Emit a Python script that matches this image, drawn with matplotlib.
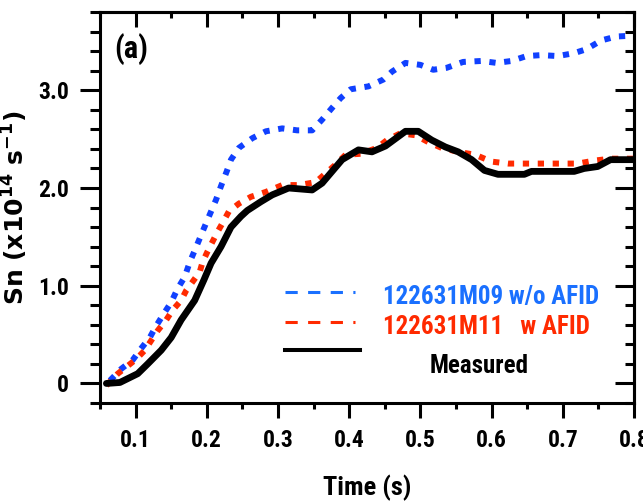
import matplotlib
matplotlib.use("Agg")
import matplotlib.pyplot as plt
from matplotlib import font_manager
from matplotlib.ticker import MultipleLocator, FixedLocator, FuncFormatter

# --- data ---
t_meas = [0.059, 0.078, 0.103, 0.117, 0.136, 0.150, 0.164, 0.183, 0.196, 0.206,
          0.220, 0.234, 0.248, 0.257, 0.276, 0.292, 0.315, 0.348, 0.362, 0.390,
          0.413, 0.432, 0.451, 0.479, 0.497, 0.516, 0.535, 0.553, 0.572, 0.590,
          0.609, 0.646, 0.656, 0.716, 0.730, 0.749, 0.767, 0.800]
sn_meas = [0.00, 0.01, 0.10, 0.20, 0.34, 0.47, 0.65, 0.85, 1.06, 1.23,
           1.40, 1.60, 1.71, 1.77, 1.86, 1.93, 2.00, 1.98, 2.05, 2.29,
           2.39, 2.37, 2.43, 2.58, 2.58, 2.49, 2.42, 2.37, 2.29, 2.18,
           2.14, 2.14, 2.17, 2.17, 2.20, 2.22, 2.29, 2.29]

t_m11 = [0.059, 0.075, 0.089, 0.101, 0.113, 0.122, 0.131, 0.143, 0.152, 0.164,
         0.171, 0.180, 0.190, 0.194, 0.201, 0.208, 0.215, 0.222, 0.231, 0.245,
         0.262, 0.283, 0.306, 0.329, 0.353, 0.367, 0.381, 0.395, 0.416, 0.439,
         0.453, 0.472, 0.493, 0.511, 0.530, 0.553, 0.577, 0.600, 0.623, 0.670,
         0.721, 0.744, 0.767, 0.800]
sn_m11 = [-0.02, 0.10, 0.18, 0.25, 0.34, 0.44, 0.54, 0.65, 0.75, 0.85,
          0.95, 1.04, 1.14, 1.24, 1.35, 1.45, 1.55, 1.64, 1.76, 1.84,
          1.91, 1.96, 2.03, 2.03, 2.06, 2.15, 2.24, 2.34, 2.35, 2.41,
          2.49, 2.56, 2.54, 2.47, 2.41, 2.37, 2.34, 2.27, 2.25, 2.25,
          2.25, 2.28, 2.30, 2.30]

t_m09 = [0.064, 0.080, 0.096, 0.108, 0.120, 0.129, 0.141, 0.150, 0.159, 0.169,
         0.176, 0.183, 0.191, 0.199, 0.206, 0.213, 0.220, 0.228, 0.234, 0.245,
         0.264, 0.283, 0.306, 0.327, 0.348, 0.362, 0.376, 0.388, 0.402, 0.427,
         0.448, 0.460, 0.479, 0.500, 0.518, 0.537, 0.560, 0.586, 0.607, 0.628,
         0.649, 0.670, 0.693, 0.716, 0.733, 0.754, 0.775, 0.800]
sn_m09 = [0.03, 0.15, 0.24, 0.36, 0.47, 0.59, 0.73, 0.83, 0.97, 1.09,
          1.24, 1.36, 1.50, 1.64, 1.76, 1.88, 2.02, 2.17, 2.29, 2.41,
          2.51, 2.58, 2.61, 2.59, 2.59, 2.70, 2.82, 2.92, 3.01, 3.04,
          3.11, 3.19, 3.28, 3.26, 3.21, 3.23, 3.29, 3.30, 3.28, 3.30,
          3.35, 3.36, 3.35, 3.38, 3.42, 3.51, 3.55, 3.56]

labels = ["122631M09 w/o AFID", "122631M11   w AFID", "Measured"]
blue = "#1040ff"
blue_txt = "#1a70ff"
red = "#ff2a00"

# condensed bold font if we have one
names = {f.name for f in font_manager.fontManager.ttflist}
narrow = "DejaVu Sans"
for cand in ["Liberation Sans Narrow", "Roboto Condensed", "Open Sans Condensed",
             "Noto Sans Display", "Liberation Sans"]:
    if cand in names:
        narrow = cand
        break
cond = dict(family=narrow, weight="bold")
if narrow in ("Liberation Sans", "DejaVu Sans"):
    cond["stretch"] = "condensed"

fig = plt.figure(figsize=(6.43, 5.04), dpi=100)
ax = fig.add_axes([0.1555, 0.2004, 0.8305, 0.7756])

ax.plot(t_m09, sn_m09, color=blue, lw=4.3, linestyle=(0, (1.05, 1.45)))
ax.plot(t_m11, sn_m11, color=red, lw=4.3, linestyle=(0, (1.05, 1.45)))
ax.plot(t_meas, sn_meas, color="black", lw=4.9, solid_capstyle="round")

ax.set_xlim(0.05, 0.8)
ax.set_ylim(-0.2, 3.8)

for s in ax.spines.values():
    s.set_linewidth(2.2)

ax.xaxis.set_major_locator(FixedLocator([0.1, 0.2, 0.3, 0.4, 0.5, 0.6, 0.7, 0.8]))
ax.xaxis.set_minor_locator(MultipleLocator(0.05))
ax.yaxis.set_major_locator(FixedLocator([0, 1, 2, 3]))
ax.yaxis.set_minor_locator(MultipleLocator(0.2))
ax.yaxis.set_major_formatter(FuncFormatter(lambda v, p: "0" if v == 0 else f"{v:.1f}"))
ax.xaxis.set_major_formatter(FuncFormatter(lambda v, p: f"{v:.1f}"))

ax.tick_params(axis="x", which="major", direction="out", length=11, width=2.2, pad=8)
ax.tick_params(axis="x", which="minor", direction="out", length=4.5, width=2.2)
ax.tick_params(axis="y", which="major", direction="out", length=14.5, width=2.2, pad=8)
ax.tick_params(axis="y", which="minor", direction="out", length=7, width=2.2)
for lab in ax.get_xticklabels() + ax.get_yticklabels():
    lab.set_fontproperties(font_manager.FontProperties(size=17, **cond))

# inward ticks on top and right
top = ax.secondary_xaxis("top")
top.xaxis.set_major_locator(FixedLocator([0.1, 0.2, 0.3, 0.4, 0.5, 0.6, 0.7, 0.8]))
top.xaxis.set_minor_locator(MultipleLocator(0.05))
top.tick_params(which="major", direction="in", length=11, width=2.2, labeltop=False)
top.tick_params(which="minor", direction="in", length=4, width=2.2)
top.spines["top"].set_linewidth(2.2)

right = ax.secondary_yaxis("right")
right.yaxis.set_major_locator(FixedLocator([0, 1, 2, 3]))
right.yaxis.set_minor_locator(MultipleLocator(0.2))
right.tick_params(which="major", direction="in", length=14, width=2.2, labelright=False)
right.tick_params(which="minor", direction="in", length=6.5, width=2.2)
right.spines["right"].set_linewidth(2.2)

ax.set_xlabel("Time (s)", fontsize=19, labelpad=16, **cond)
ax.set_ylabel(r"Sn (x10$^{\mathbf{14}}$ s$^{\mathbf{-1}}$)", fontsize=18,
              fontweight="bold", family="DejaVu Sans", labelpad=6)

ax.text(0.026, 0.905, "(a)", transform=ax.transAxes, fontsize=22, va="center", **cond)

# legend drawn by hand
ax.plot([0.346, 0.478], [0.284, 0.284], transform=ax.transAxes, color=blue_txt,
        lw=2.2, linestyle=(0, (4, 3.4)))
ax.plot([0.346, 0.478], [0.207, 0.207], transform=ax.transAxes, color=red,
        lw=2.2, linestyle=(0, (4, 3.4)))
ax.plot([0.346, 0.487], [0.136, 0.136], transform=ax.transAxes, color="black", lw=2.9)
ax.text(0.530, 0.271, labels[0], transform=ax.transAxes, color=blue_txt, fontsize=18,
        va="center", **cond)
ax.text(0.530, 0.194, labels[1], transform=ax.transAxes, color=red, fontsize=18,
        va="center", **cond)
ax.text(0.618, 0.095, labels[2], transform=ax.transAxes, color="black", fontsize=18,
        va="center", **cond)

fig.savefig("out.png", dpi=100)
